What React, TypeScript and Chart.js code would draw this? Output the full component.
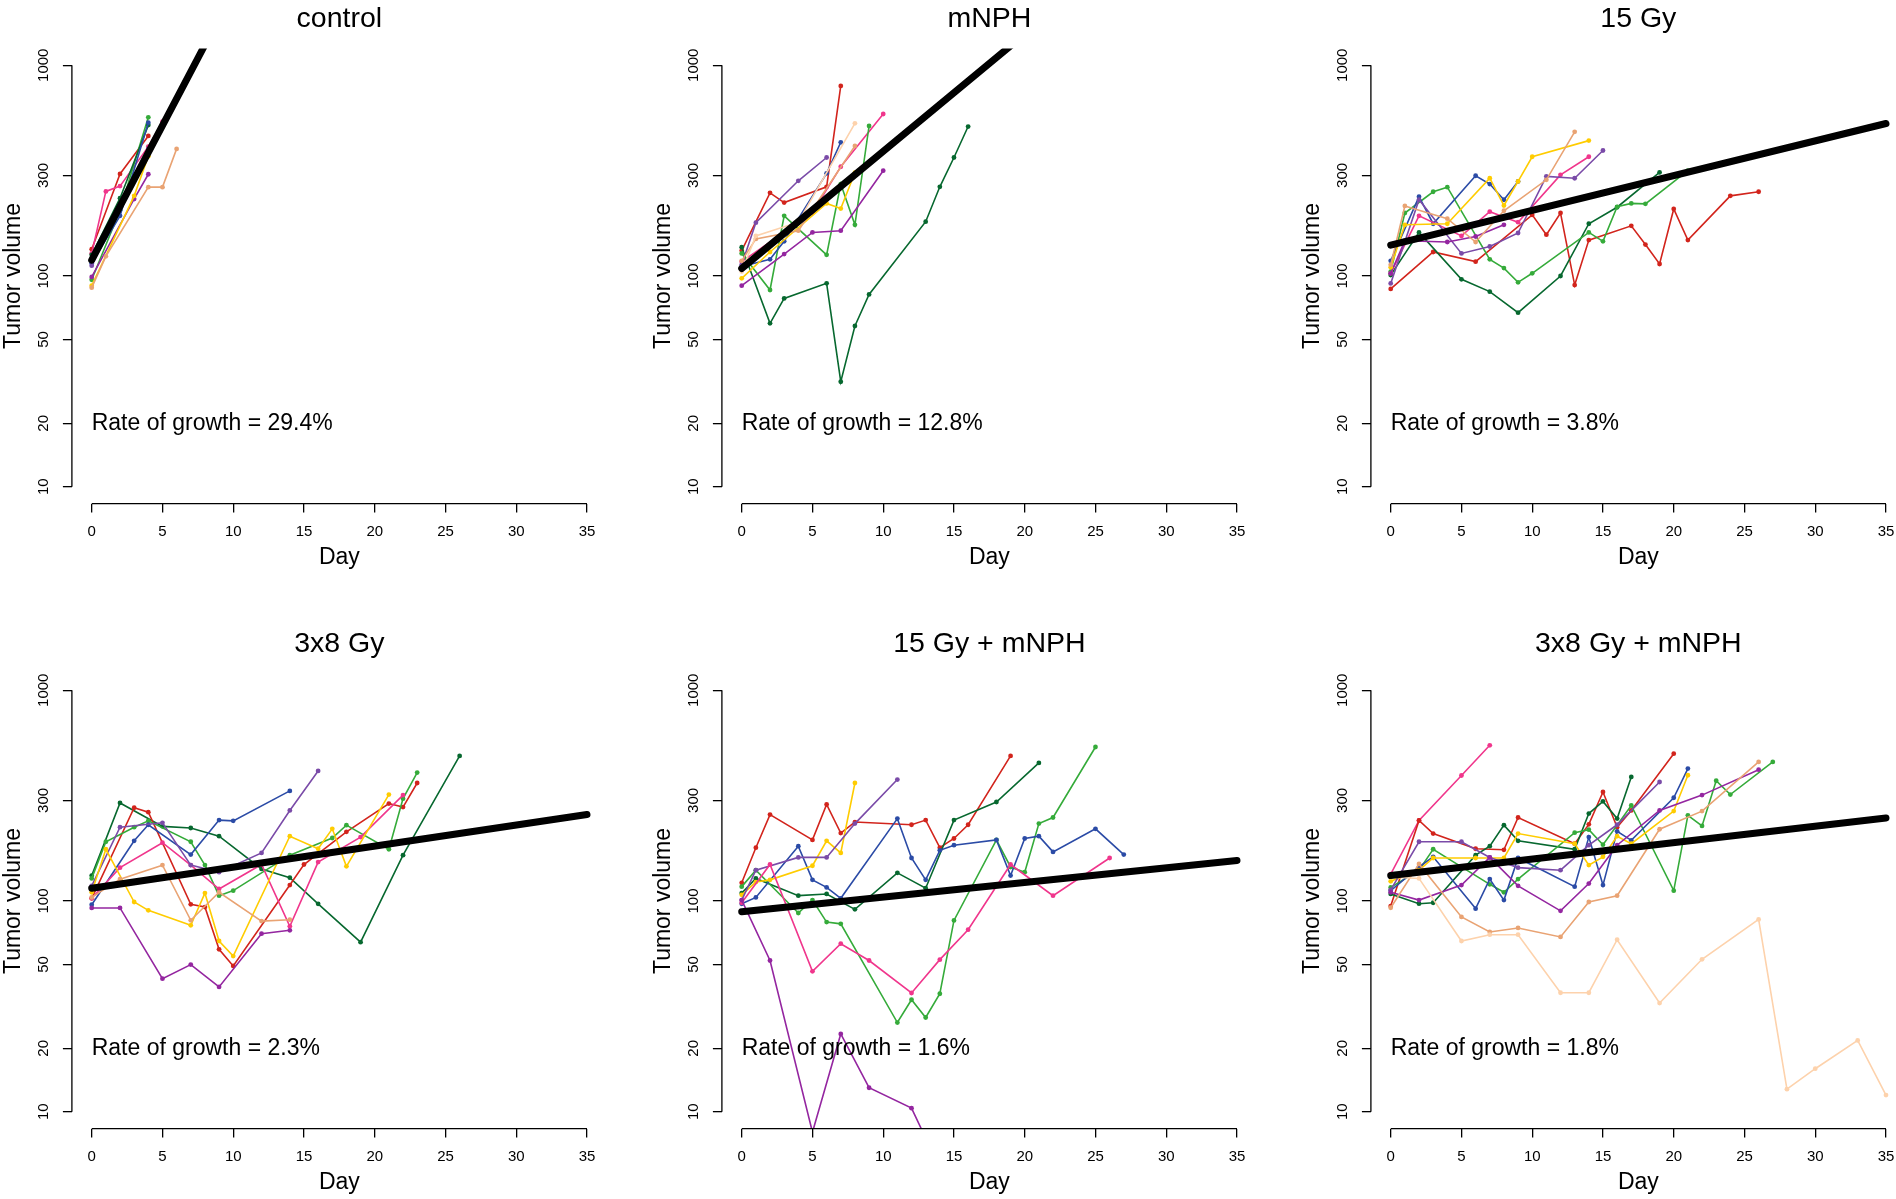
import React, { useEffect, useRef } from "react";
import { Chart, registerables } from "chart.js";

Chart.register(...registerables);

type Pt = [number, number];

const FONT = '"Liberation Sans", Arial, Helvetica, sans-serif';

const DAY_TICKS = [0, 5, 10, 15, 20, 25, 30, 35];
const VOLUME_TICKS = [10, 20, 50, 100, 300, 1000];
const PANEL_TITLES = ["control", "mNPH", "15 Gy", "3x8 Gy", "15 Gy + mNPH", "3x8 Gy + mNPH"];
const GROWTH_RATES = [29.4, 12.8, 3.8, 2.3, 1.6, 1.8];
const FIT_DAY0 = [119, 108.6, 140, 115, 89, 132];

const COLORS: Record<string, string> = {
  red: "#D2241C",
  pink: "#F0368C",
  darkgreen: "#07682F",
  green: "#35AB3A",
  blue: "#2B4BA6",
  violet: "#7A4BA8",
  purple: "#9426A0",
  yellow: "#FFCC00",
  tan: "#E9A373",
  peach: "#FDD2AC",
};

// ---- control ----
const CONTROL_RED: Pt[] = [[0, 134], [2, 305], [4, 462]];
const CONTROL_PINK: Pt[] = [[0, 128], [1, 252], [2, 267], [4, 411], [5, 540]];
const CONTROL_BLUE: Pt[] = [[0, 115], [2, 193], [4, 534]];
const CONTROL_GREEN: Pt[] = [[0, 96], [2, 205], [4, 566]];
const CONTROL_DARKGREEN: Pt[] = [[0, 126], [2, 234], [4, 520]];
const CONTROL_YELLOW: Pt[] = [[0, 90], [3, 240], [4, 370]];
const CONTROL_PURPLE: Pt[] = [[0, 99], [3, 232], [4, 304]];
const CONTROL_VIOLET: Pt[] = [[0, 112], [4, 401]];
const CONTROL_TAN: Pt[] = [[0, 88], [1, 124], [4, 264], [5, 264], [6, 401]];

// ---- mNPH ----
const MNPH_RED: Pt[] = [[0, 132], [2, 248], [3, 223], [6, 265], [7, 798]];
const MNPH_DARKGREEN: Pt[] = [[0, 137], [2, 59.6], [3, 78.3], [6, 92.3], [7, 31.5], [8, 57.9], [9, 81.8], [13, 181], [14, 265], [15, 365], [16, 512]];
const MNPH_GREEN: Pt[] = [[0, 128], [2, 85.8], [3, 193], [6, 126], [7, 273], [8, 175], [9, 515]];
const MNPH_BLUE: Pt[] = [[0, 111], [2, 120], [3, 146], [6, 307], [7, 431]];
const MNPH_VIOLET: Pt[] = [[0, 113], [1, 179], [4, 283], [6, 365]];
const MNPH_PURPLE: Pt[] = [[0, 90], [3, 127], [5, 161], [7, 164], [10, 316]];
const MNPH_PINK: Pt[] = [[0, 117], [5, 200], [7, 330], [10, 587]];
const MNPH_YELLOW: Pt[] = [[0, 97.5], [2, 130], [6, 221], [7, 209], [8, 309]];
const MNPH_TAN: Pt[] = [[0, 118], [1, 150], [4, 164], [8, 414]];
const MNPH_PEACH: Pt[] = [[0, 105], [1, 155], [4, 180], [8, 530]];

// ---- 15 Gy ----
const GY15_RED: Pt[] = [[0, 86.8], [3, 130], [6, 117], [10, 195], [11, 157], [12, 199], [13, 90.6], [14, 148], [17, 173], [18, 141], [19, 114], [20, 208], [21, 148], [24, 240], [26, 251]];
const GY15_DARKGREEN: Pt[] = [[0, 101], [2, 161], [5, 96.4], [7, 84.3], [9, 67], [12, 100], [14, 177], [16, 212], [19, 310]];
const GY15_GREEN: Pt[] = [[0, 105], [1, 199], [3, 251], [4, 264], [7, 120], [8, 109], [9, 93.3], [10, 103], [14, 161], [15, 146], [16, 213], [17, 221], [18, 220], [21, 316]];
const GY15_BLUE: Pt[] = [[0, 118], [2, 238], [3, 177], [6, 299], [7, 273], [8, 230], [9, 281]];
const GY15_YELLOW: Pt[] = [[0, 110], [1, 175], [4, 177], [7, 291], [8, 216], [9, 281], [10, 368], [14, 439]];
const GY15_TAN: Pt[] = [[0, 113], [1, 215], [4, 187], [6, 145], [8, 204], [11, 286], [13, 483]];
const GY15_PINK: Pt[] = [[0, 103], [2, 193], [5, 155], [7, 202], [9, 180], [12, 302], [14, 368]];
const GY15_VIOLET: Pt[] = [[0, 92.2], [2, 230], [5, 128], [7, 138], [9, 160], [11, 297], [13, 291], [15, 394]];
const GY15_PURPLE: Pt[] = [[0, 103], [1, 147], [4, 145], [6, 154], [8, 175]];

// ---- 3x8 Gy ----
const GY3X8_DARKGREEN: Pt[] = [[0, 132], [2, 292], [5, 226], [7, 222], [9, 203], [12, 142], [14, 129], [16, 97], [19, 63.8], [22, 165], [26, 488]];
const GY3X8_RED: Pt[] = [[0, 103], [3, 277], [4, 264], [7, 96.4], [8, 93.6], [9, 59], [10, 49.2], [14, 119], [15, 149], [18, 213], [21, 290], [22, 279], [23, 363]];
const GY3X8_GREEN: Pt[] = [[0, 128], [1, 191], [3, 224], [4, 240], [7, 191], [8, 148], [9, 106], [10, 112], [14, 165], [17, 199], [18, 229], [21, 176], [22, 306], [23, 407]];
const GY3X8_BLUE: Pt[] = [[0, 96], [3, 193], [4, 230], [7, 166], [9, 242], [10, 240], [14, 333]];
const GY3X8_VIOLET: Pt[] = [[0, 118], [2, 224], [5, 235], [7, 148], [9, 137], [12, 169], [14, 269], [16, 414]];
const GY3X8_PURPLE: Pt[] = [[0, 92.7], [2, 92.7], [5, 42.8], [7, 49.9], [9, 39.1], [12, 70], [14, 72.6]];
const GY3X8_PINK: Pt[] = [[0, 103], [2, 144], [5, 189], [7, 148], [9, 114], [12, 149], [14, 75.8], [16, 153], [19, 201], [22, 318]];
const GY3X8_YELLOW: Pt[] = [[0, 110], [1, 176], [3, 98.9], [4, 90.3], [7, 76.7], [8, 109], [9, 64.6], [10, 54.8], [14, 203], [16, 177], [17, 220], [18, 146], [21, 320]];
const GY3X8_TAN: Pt[] = [[0, 104], [2, 127], [5, 148], [7, 81], [9, 110], [12, 80.3], [14, 81.5]];

// ---- 15 Gy + mNPH ----
const GY15M_RED: Pt[] = [[0, 122], [1, 179], [2, 257], [5, 195], [6, 287], [7, 210], [8, 237], [12, 230], [13, 242], [14, 179], [15, 198], [16, 230], [19, 488]];
const GY15M_DARKGREEN: Pt[] = [[0, 109], [1, 128], [4, 106], [6, 108], [8, 91.3], [11, 136], [13, 115], [15, 242], [18, 295], [21, 452]];
const GY15M_GREEN: Pt[] = [[0, 117], [1, 140], [4, 87.7], [5, 101], [6, 79.4], [7, 77.9], [11, 26.5], [12, 34], [13, 28], [14, 36.3], [15, 80.9], [18, 195], [19, 145], [20, 137], [21, 233], [22, 249], [25, 538]];
const GY15M_BLUE: Pt[] = [[0, 97], [1, 104], [4, 182], [5, 126], [6, 116], [7, 103], [11, 246], [12, 160], [13, 126], [14, 174], [15, 184], [18, 195], [19, 132], [20, 198], [21, 203], [22, 171], [25, 220], [27, 166]];
const GY15M_YELLOW: Pt[] = [[0, 107], [1, 123], [2, 126], [5, 147], [6, 193], [7, 169], [8, 363]];
const GY15M_VIOLET: Pt[] = [[0, 101], [1, 140], [4, 161], [6, 161], [8, 233], [11, 377]];
const GY15M_PINK: Pt[] = [[0, 98], [2, 149], [5, 46.4], [7, 62.7], [9, 52.2], [12, 36.6], [14, 52.7], [16, 73.1], [19, 149], [22, 106], [26, 160]];
const GY15M_PURPLE: Pt[] = [[0, 101], [2, 52.2], [5, 8], [7, 23.4], [9, 13], [12, 10.4], [13, 7.5]];

// ---- 3x8 Gy + mNPH ----
const GY3X8M_PINK: Pt[] = [[0, 134], [2, 241], [5, 394], [7, 548]];
const GY3X8M_RED: Pt[] = [[0, 94.6], [2, 241], [3, 209], [6, 177], [8, 175], [9, 249], [13, 187], [14, 231], [15, 329], [16, 224], [17, 269], [20, 500]];
const GY3X8M_DARKGREEN: Pt[] = [[0, 108], [2, 97.1], [3, 98.1], [6, 165], [7, 182], [8, 229], [9, 193], [13, 176], [14, 260], [15, 297], [16, 246], [17, 388]];
const GY3X8M_GREEN: Pt[] = [[0, 116], [2, 140], [3, 176], [7, 120], [8, 110], [9, 127], [13, 211], [14, 218], [15, 185], [17, 284], [20, 112], [21, 255], [22, 227], [23, 372], [24, 320], [27, 457]];
const GY3X8M_BLUE: Pt[] = [[0, 112], [2, 145], [3, 162], [6, 92], [7, 127], [8, 101], [9, 160], [13, 117], [14, 201], [15, 119], [16, 214], [17, 194], [20, 309], [21, 425]];
const GY3X8M_YELLOW: Pt[] = [[0, 124], [2, 140], [3, 160], [6, 160], [8, 160], [9, 209], [13, 187], [14, 148], [15, 162], [16, 203], [17, 187], [20, 267], [21, 395]];
const GY3X8M_VIOLET: Pt[] = [[0, 113], [2, 191], [5, 191], [7, 161], [9, 144], [12, 140], [14, 184], [16, 230], [19, 367]];
const GY3X8M_PURPLE: Pt[] = [[0, 110], [2, 101], [5, 119], [7, 161], [9, 118], [12, 89.8], [14, 121], [16, 184], [19, 269], [22, 318], [26, 420]];
const GY3X8M_TAN: Pt[] = [[0, 92.9], [2, 150], [5, 84], [7, 71.3], [9, 74.5], [12, 67.5], [14, 98.9], [16, 106], [19, 219], [22, 267], [26, 457]];
const GY3X8M_PEACH: Pt[] = [[0, 130], [2, 128], [5, 64.6], [7, 69.2], [9, 69.2], [12, 36.7], [14, 36.7], [16, 65.5], [19, 32.8], [22, 52.9], [26, 81.8], [28, 12.8], [30, 16], [33, 21.8], [35, 12]];

const PANEL_SERIES: [string, Pt[]][][] = [
  [["tan", CONTROL_TAN], ["yellow", CONTROL_YELLOW], ["purple", CONTROL_PURPLE], ["violet", CONTROL_VIOLET], ["blue", CONTROL_BLUE], ["darkgreen", CONTROL_DARKGREEN], ["green", CONTROL_GREEN], ["pink", CONTROL_PINK], ["red", CONTROL_RED]],
  [["peach", MNPH_PEACH], ["tan", MNPH_TAN], ["yellow", MNPH_YELLOW], ["purple", MNPH_PURPLE], ["violet", MNPH_VIOLET], ["blue", MNPH_BLUE], ["green", MNPH_GREEN], ["darkgreen", MNPH_DARKGREEN], ["pink", MNPH_PINK], ["red", MNPH_RED]],
  [["tan", GY15_TAN], ["yellow", GY15_YELLOW], ["purple", GY15_PURPLE], ["violet", GY15_VIOLET], ["pink", GY15_PINK], ["blue", GY15_BLUE], ["green", GY15_GREEN], ["darkgreen", GY15_DARKGREEN], ["red", GY15_RED]],
  [["tan", GY3X8_TAN], ["yellow", GY3X8_YELLOW], ["purple", GY3X8_PURPLE], ["violet", GY3X8_VIOLET], ["pink", GY3X8_PINK], ["blue", GY3X8_BLUE], ["green", GY3X8_GREEN], ["red", GY3X8_RED], ["darkgreen", GY3X8_DARKGREEN]],
  [["purple", GY15M_PURPLE], ["pink", GY15M_PINK], ["violet", GY15M_VIOLET], ["yellow", GY15M_YELLOW], ["blue", GY15M_BLUE], ["green", GY15M_GREEN], ["darkgreen", GY15M_DARKGREEN], ["red", GY15M_RED]],
  [["peach", GY3X8M_PEACH], ["tan", GY3X8M_TAN], ["purple", GY3X8M_PURPLE], ["violet", GY3X8M_VIOLET], ["yellow", GY3X8M_YELLOW], ["blue", GY3X8M_BLUE], ["green", GY3X8M_GREEN], ["darkgreen", GY3X8M_DARKGREEN], ["red", GY3X8M_RED], ["pink", GY3X8M_PINK]],
];

// layout (pixels within one panel canvas)
const CANVAS_W = 650;
const CANVAS_H = 625;
const PLOT_LEFT = 71.9;
const PLOT_RIGHT = 606.8;
const PLOT_TOP = 48.4;
const PLOT_BOTTOM = 503.6;
const COL_X = [0, 650, 1299];
const ROW_Y = [0, 625];

function Panel({ index }: { index: number }) {
  const ref = useRef<HTMLCanvasElement | null>(null);
  useEffect(() => {
    const canvas = ref.current;
    if (!canvas) return;
    const title = PANEL_TITLES[index];
    const rate = GROWTH_RATES[index];
    const a = FIT_DAY0[index];

    const datasets: any[] = [];
    datasets.push({
      data: [0, 35].map((d) => ({ x: d, y: a * Math.exp((rate / 100) * d) })),
      borderColor: "#000",
      backgroundColor: "#000",
      borderWidth: 7,
      borderCapStyle: "round",
      pointRadius: 0,
      fill: false,
      tension: 0,
    });
    for (const [key, pts] of PANEL_SERIES[index]) {
      const c = COLORS[key];
      datasets.push({
        data: pts.map(([x, y]) => ({ x, y })),
        borderColor: c,
        backgroundColor: c,
        pointBackgroundColor: c,
        pointBorderColor: c,
        borderWidth: 1.6,
        pointRadius: 2.4,
        pointBorderWidth: 0,
        fill: false,
        tension: 0,
      });
    }

    const rPlot = {
      id: "rPlot" + index,
      afterDraw(chart: any) {
        const { ctx, chartArea, scales } = chart;
        const xs = scales.x;
        const ys = scales.y;
        ctx.save();
        ctx.strokeStyle = "#000";
        ctx.lineWidth = 1.3;
        ctx.beginPath();
        ctx.moveTo(xs.getPixelForValue(DAY_TICKS[0]), chartArea.bottom);
        ctx.lineTo(xs.getPixelForValue(DAY_TICKS[DAY_TICKS.length - 1]), chartArea.bottom);
        ctx.moveTo(chartArea.left, ys.getPixelForValue(VOLUME_TICKS[0]));
        ctx.lineTo(chartArea.left, ys.getPixelForValue(VOLUME_TICKS[VOLUME_TICKS.length - 1]));
        ctx.stroke();
        ctx.fillStyle = "#000";
        ctx.textBaseline = "alphabetic";
        ctx.textAlign = "center";
        ctx.font = `28.5px ${FONT}`;
        ctx.fillText(title, (chartArea.left + chartArea.right) / 2, 27);
        ctx.textAlign = "left";
        ctx.font = `23px ${FONT}`;
        ctx.fillText(`Rate of growth = ${rate.toFixed(1)}%`, xs.getPixelForValue(0), ys.getPixelForValue(20) + 6.7);
        ctx.restore();
      },
    };

    const gridOpts = {
      display: true,
      drawOnChartArea: false,
      drawTicks: true,
      tickLength: 9,
      color: "#000",
      lineWidth: 1.3,
    };

    const chart = new Chart(canvas, {
      type: "line",
      data: { datasets },
      options: {
        responsive: false,
        animation: false,
        devicePixelRatio: 1,
        events: [],
        layout: { padding: { left: 0, top: PLOT_TOP, right: CANVAS_W - PLOT_RIGHT, bottom: 0 } },
        plugins: {
          legend: { display: false },
          tooltip: { enabled: false },
          title: { display: false },
        },
        scales: {
          x: {
            type: "linear",
            position: "bottom",
            min: -1.4,
            max: 36.4,
            afterBuildTicks: (s: any) => {
              s.ticks = DAY_TICKS.map((v) => ({ value: v }));
            },
            afterFit: (s: any) => {
              s.height = CANVAS_H - PLOT_BOTTOM;
            },
            grid: gridOpts,
            border: { display: false },
            ticks: {
              autoSkip: false,
              minRotation: 0,
              maxRotation: 0,
              padding: 10,
              color: "#000",
              font: { size: 15, family: FONT },
              callback: (v: any) => String(v),
            },
            title: {
              display: true,
              text: "Day",
              color: "#000",
              font: { size: 23, family: FONT },
              padding: { top: 0, bottom: 54 },
            },
          },
          y: {
            type: "logarithmic",
            position: "left",
            min: Math.pow(10, 0.92),
            max: Math.pow(10, 3.08),
            afterBuildTicks: (s: any) => {
              s.ticks = VOLUME_TICKS.map((v) => ({ value: v }));
            },
            afterFit: (s: any) => {
              s.width = PLOT_LEFT;
            },
            grid: gridOpts,
            border: { display: false },
            ticks: {
              autoSkip: false,
              minRotation: 90,
              maxRotation: 90,
              crossAlign: "center",
              padding: 2,
              color: "#000",
              font: { size: 15, family: FONT },
              callback: (v: any) => String(v),
            },
            title: {
              display: true,
              text: "Tumor volume",
              color: "#000",
              font: { size: 23, family: FONT },
              padding: { top: 0, bottom: 0 },
            },
          },
        },
      } as any,
      plugins: [rPlot],
    });
    return () => chart.destroy();
  }, [index]);

  const col = index % 3;
  const row = Math.floor(index / 3);
  return (
    <canvas
      ref={ref}
      width={CANVAS_W}
      height={CANVAS_H}
      style={{ position: "absolute", left: COL_X[col], top: ROW_Y[row], width: CANVAS_W, height: CANVAS_H, display: "block" }}
    />
  );
}

export default function App() {
  Chart.defaults.font.family = FONT;
  Chart.defaults.color = "#000";
  return (
    <div
      style={{
        position: "absolute",
        left: 0,
        top: 0,
        width: 1896,
        height: 1199,
        overflow: "hidden",
        background: "#fff",
      }}
    >
      {PANEL_TITLES.map((_, i) => (
        <Panel key={i} index={i} />
      ))}
    </div>
  );
}
